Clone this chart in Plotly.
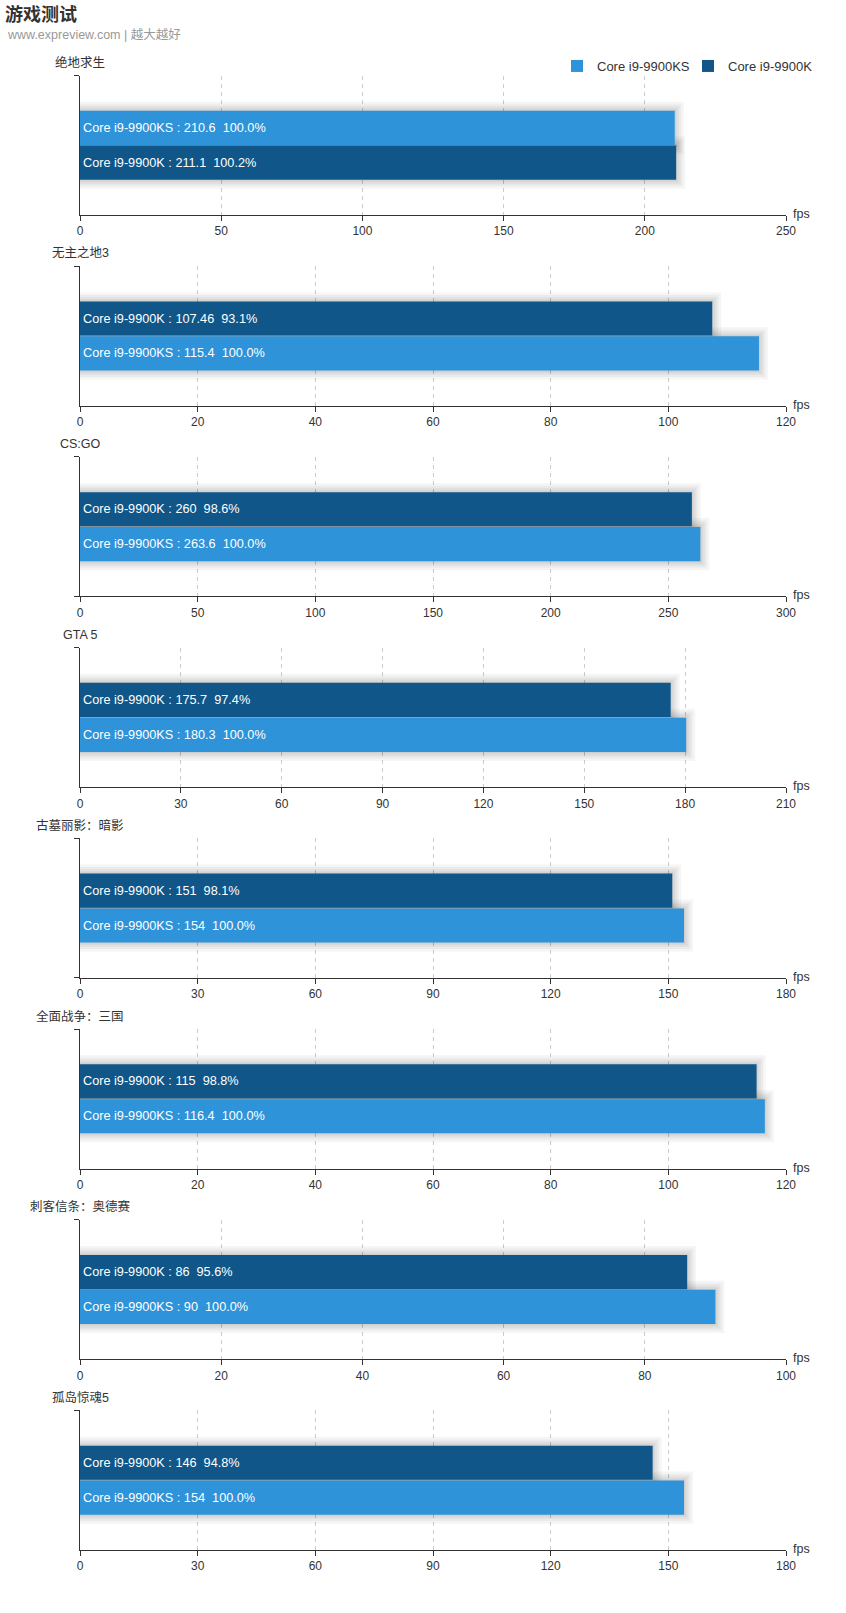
import plotly.graph_objects as go

# ---------------- data ----------------
games = ["绝地求生", "无主之地3", "CS:GO", "GTA 5", "古墓丽影：暗影",
         "全面战争：三国", "刺客信条：奥德赛", "孤岛惊魂5"]
ks_name = "Core i9-9900KS"
k_name = "Core i9-9900K"
ks_fps = [210.6, 115.4, 263.6, 180.3, 154, 116.4, 90, 154]
k_fps = [211.1, 107.46, 260, 175.7, 151, 115, 86, 146]
ks_pct = ["100.0%", "100.0%", "100.0%", "100.0%", "100.0%", "100.0%", "100.0%", "100.0%"]
k_pct = ["100.2%", "93.1%", "98.6%", "97.4%", "98.1%", "98.8%", "95.6%", "94.8%"]
x_max = [250, 120, 300, 210, 180, 120, 100, 180]
x_step = [50, 20, 50, 30, 30, 20, 20, 30]
top_series = ["KS", "K", "K", "K", "K", "K", "K", "K"]
unit = "fps"

# ---------------- style ----------------
W, H = 846, 1613
ML, MR = 80, 60
KS_COLOR = "#2e93d9"
K_COLOR = "#105688"
FONT = "Liberation Sans, Noto Sans CJK SC, sans-serif"
TXT = "#333333"
first_bottom = 215.0
spacing = 190.71
plot_h = 139.5
BARGAP = 0.5
GROUPGAP = 0.02

fig = go.Figure()
shapes = []
annotations = []


def pyv(px):
    return 1 - px / H


for i, g in enumerate(games):
    n = "" if i == 0 else str(i + 1)
    xa, ya = "x" + n, "y" + n
    bottom = first_bottom + i * spacing
    top = bottom - plot_h

    ks = dict(key="KS", name=ks_name, v=ks_fps[i], pct=ks_pct[i], color=KS_COLOR, rank=1)
    k = dict(key="K", name=k_name, v=k_fps[i], pct=k_pct[i], color=K_COLOR, rank=2)
    order = [k, ks] if top_series[i] == "KS" else [ks, k]  # first trace is drawn lowest

    slot = (1 - BARGAP) / 2
    bw = slot * (1 - GROUPGAP)
    for j, s in enumerate(order):
        label = f"{s['name']} : {s['v']:g}\u00a0\u00a0{s['pct']}"
        fig.add_trace(go.Bar(
            x=[s["v"]], y=[g], orientation="h", name=s["name"],
            marker=dict(color=s["color"], line=dict(width=0)),
            text=[label], textposition="inside", insidetextanchor="start",
            textfont=dict(color="white", size=12.7, family=FONT),
            constraintext="none", cliponaxis=False,
            xaxis=xa, yaxis=ya, legendgroup=s["key"], legendrank=s["rank"],
            showlegend=(i == 0), hoverinfo="skip",
        ))
        c = (-slot / 2) if j == 0 else (slot / 2)
        for lw in [18, 13, 9, 5, 2]:
            shapes.append(dict(
                type="rect", xref=xa, yref=ya, x0=0, x1=s["v"],
                y0=c - bw / 2, y1=c + bw / 2, layer="between",
                line=dict(color="rgba(0,0,0,0.04)", width=lw),
                fillcolor="rgba(0,0,0,0)",
            ))

    dom = [pyv(bottom), pyv(top)]
    fig.layout["xaxis" + n] = dict(
        domain=[0, 1], anchor=ya, range=[0, x_max[i]], tick0=0, dtick=x_step[i],
        showline=True, linecolor=TXT, linewidth=1,
        ticks="outside", ticklen=5, tickcolor=TXT,
        showgrid=True, gridcolor="#cccccc", griddash="4px,4px", gridwidth=1,
        zeroline=False, tickfont=dict(size=12, color=TXT, family=FONT),
        fixedrange=True,
    )
    fig.layout["yaxis" + n] = dict(
        domain=dom, anchor=xa, type="category", range=[-0.5, 0.5],
        showline=True, linecolor=TXT, linewidth=1,
        ticks="outside", ticklen=5, tickcolor=TXT, tickson="boundaries",
        showticklabels=False, showgrid=False, zeroline=False, fixedrange=True,
    )
    annotations.append(dict(
        text=g, xref=xa + " domain", yref=ya + " domain", x=0, y=1,
        xanchor="center", yanchor="middle", yshift=13, showarrow=False,
        font=dict(size=12.5, color=TXT, family=FONT),
    ))
    annotations.append(dict(
        text=unit, xref=xa + " domain", yref=ya + " domain", x=1, y=0,
        xanchor="left", yanchor="middle", xshift=5, yshift=1, showarrow=False,
        font=dict(size=12.5, color=TXT, family=FONT),
    ))

annotations.append(dict(
    text="www.expreview.com | 越大越好", xref="paper", yref="paper",
    x=(5 - ML) / (W - ML - MR), y=pyv(35), xanchor="left", yanchor="middle",
    showarrow=False, font=dict(size=12.5, color="#999999", family=FONT),
))

fig.update_layout(
    width=W, height=H,
    margin=dict(l=ML, r=MR, t=0, b=0, pad=0),
    paper_bgcolor="white", plot_bgcolor="white",
    barmode="group", bargap=BARGAP, bargroupgap=GROUPGAP,
    title=dict(text="<b>游戏测试</b>", x=5 / W, xanchor="left", y=1 - 15 / H,
               yanchor="middle", font=dict(size=18, color="#333333", family=FONT)),
    legend=dict(orientation="h", x=(819 - ML) / (W - ML - MR), xanchor="right",
                y=pyv(66), yanchor="middle", font=dict(size=13, color=TXT, family=FONT),
                bgcolor="rgba(0,0,0,0)", itemwidth=30, tracegroupgap=0,
                entrywidth=86, entrywidthmode="pixels"),
    shapes=shapes, annotations=annotations,
    font=dict(family=FONT, color=TXT),
    showlegend=True,
)

fig.write_html("out.html", config={"displayModeBar": False},
               post_script="document.body.style.margin='0';")
